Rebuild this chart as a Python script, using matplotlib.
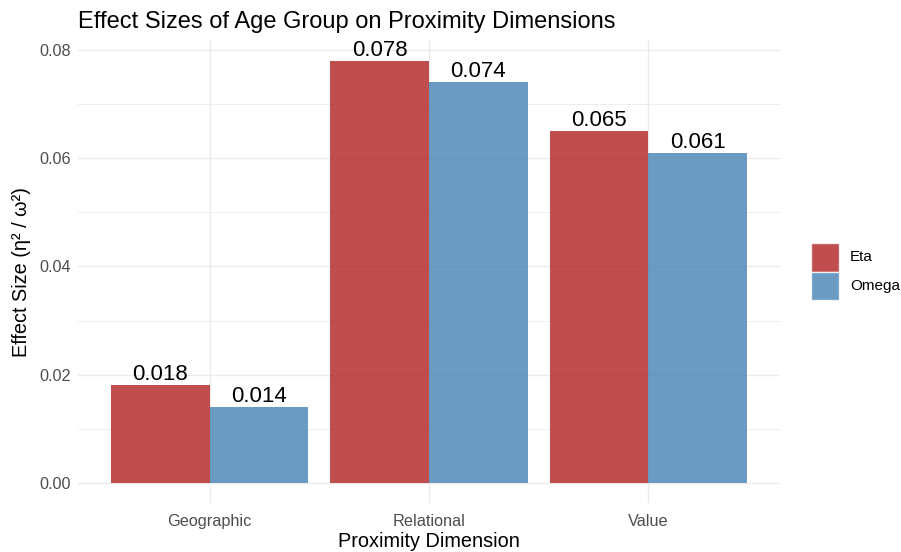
import numpy as np
import matplotlib.pyplot as plt
from matplotlib.patches import Rectangle

plt.rcParams['font.family'] = ['Liberation Sans', 'DejaVu Sans']

# === DATA ===
dimensions = ["Geographic", "Relational", "Value"]
eta = [0.018, 0.078, 0.065]
omega = [0.014, 0.074, 0.061]
labels_eta = ["0.018", "0.078", "0.065"]
labels_omega = ["0.014", "0.074", "0.061"]
legend_names = ["Eta", "Omega"]

col_eta = "#B22222"
col_omega = "#4682B4"

fig = plt.figure(figsize=(9.01, 5.52), dpi=100)
ax = fig.add_axes([0.0866, 0.0888, 0.7791, 0.8387])

x = np.arange(1, len(dimensions) + 1)
w = 0.45

b1 = ax.bar(x - w / 2, eta, width=w, color=col_eta, alpha=0.8, zorder=3, linewidth=0)
b2 = ax.bar(x + w / 2, omega, width=w, color=col_omega, alpha=0.8, zorder=3, linewidth=0)

for bars, labs in [(b1, labels_eta), (b2, labels_omega)]:
    for rect, lab in zip(bars, labs):
        ax.annotate(lab, (rect.get_x() + rect.get_width() / 2, rect.get_height()),
                    xytext=(0, 0), textcoords="offset points",
                    ha="center", va="bottom", fontsize=16, color="black", zorder=4)

ax.set_xlim(0.4, 3.6)
ax.set_ylim(-0.0037, 0.0818)
ax.set_xticks(x)
ax.set_xticklabels(dimensions)
ax.set_yticks([0, 0.02, 0.04, 0.06, 0.08])
ax.set_yticklabels(["0.00", "0.02", "0.04", "0.06", "0.08"])
ax.set_yticks([0.01, 0.03, 0.05, 0.07], minor=True)

ax.grid(True, which="major", color="#EBEBEB", linewidth=1.0, zorder=0)
ax.grid(True, which="minor", axis="y", color="#EBEBEB", linewidth=0.6, zorder=0)
for sp in ax.spines.values():
    sp.set_visible(False)
ax.tick_params(axis="both", which="both", length=0, labelsize=11.7, labelcolor="#4D4D4D")
ax.tick_params(axis="x", pad=8)
ax.tick_params(axis="y", pad=5)

ax.set_xlabel("Proximity Dimension", fontsize=14.3, labelpad=2)
ax.set_ylabel("Effect Size (η² / ω²)", fontsize=14.3, labelpad=6)
ax.set_title("Effect Sizes of Age Group on Proximity Dimensions", fontsize=17,
             loc="left", pad=9)

# legend drawn by hand (ggplot style keys)
key_x, key_w, key_h = 0.9001, 0.0311, 0.0516
key_y = [0.5081, 0.4565]
for yb, c, name in zip(key_y, [col_eta, col_omega], legend_names):
    fig.patches.append(Rectangle((key_x, yb), key_w, key_h, transform=fig.transFigure,
                                 facecolor=c, alpha=0.8, edgecolor="white", linewidth=1))
    fig.text(0.9434, yb + key_h / 2, name, fontsize=11, va="center", ha="left",
             color="black")

fig.savefig("out.png", dpi=100)
